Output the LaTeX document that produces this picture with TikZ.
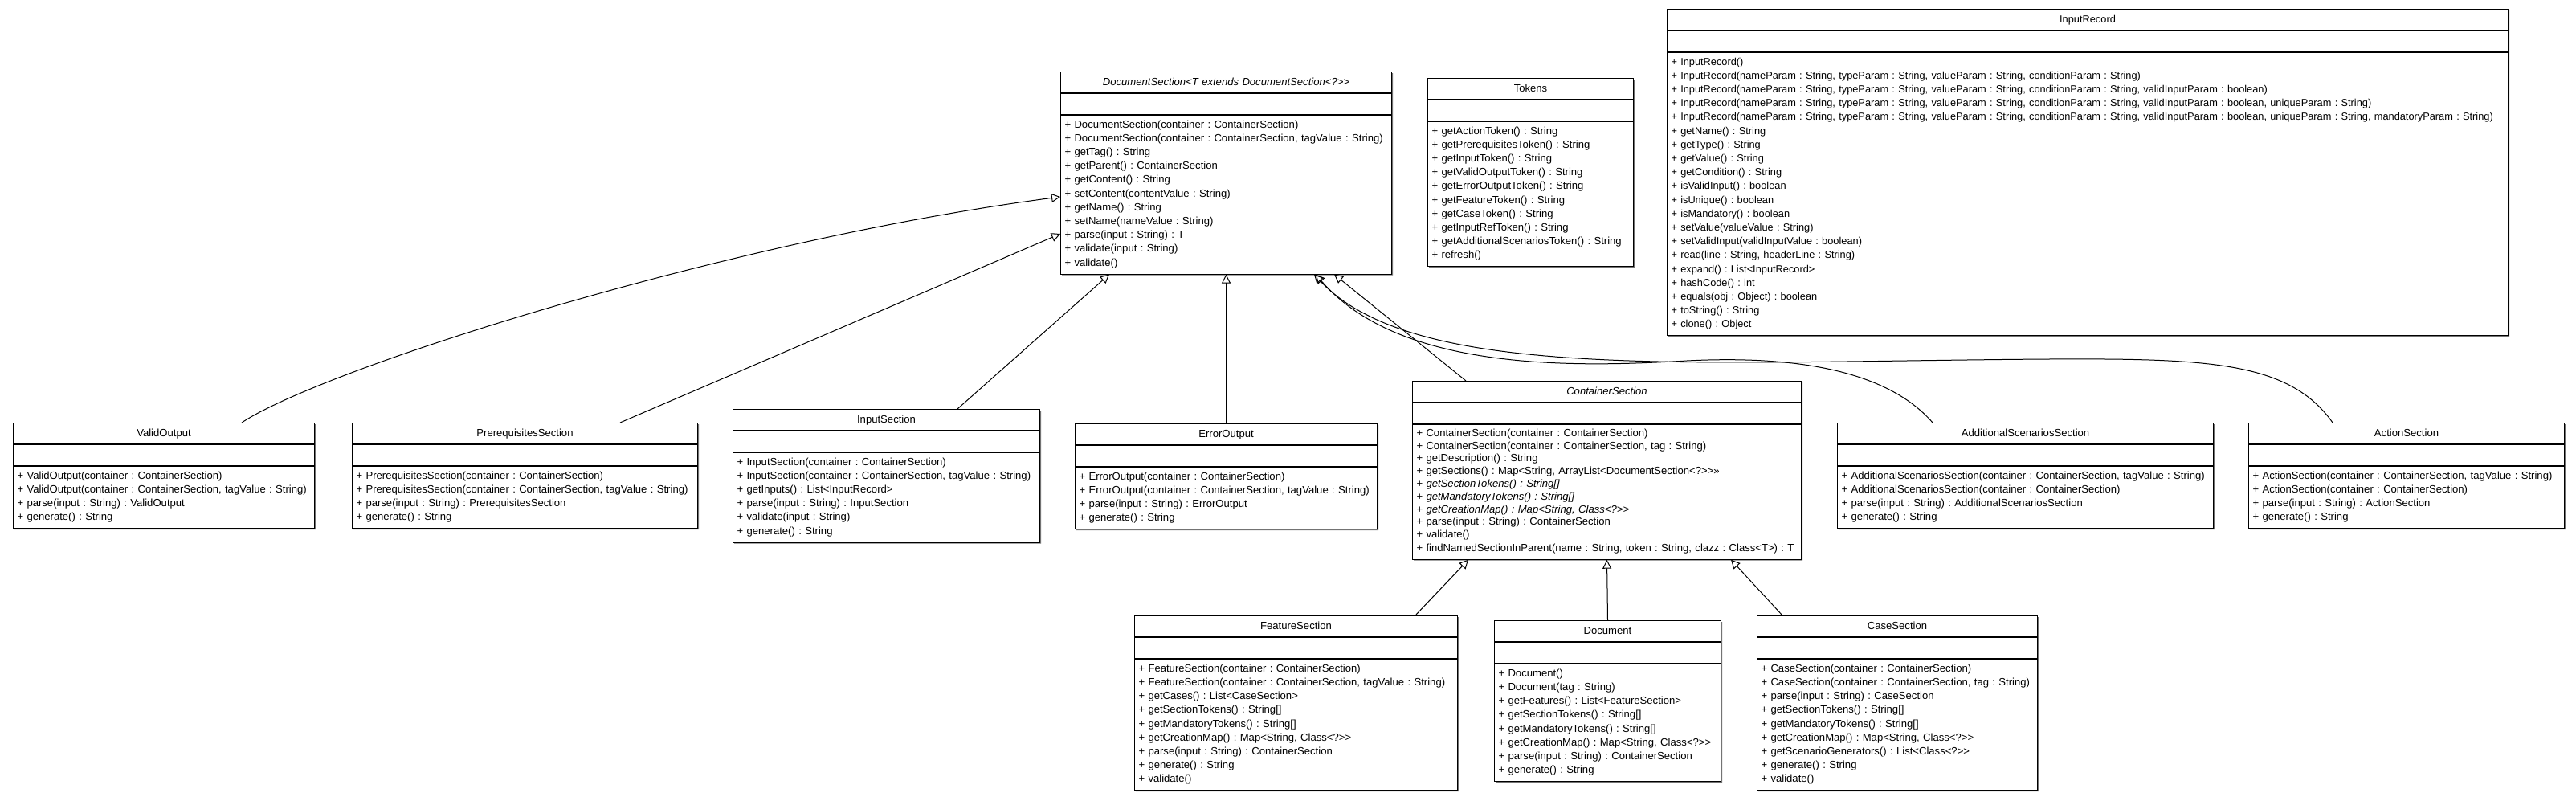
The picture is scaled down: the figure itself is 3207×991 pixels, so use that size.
\documentclass[tikz,border=0pt]{standalone}
\usepackage{fontspec}
\setmainfont{Liberation Sans}
\usetikzlibrary{shapes.multipart}
\usetikzlibrary{arrows.meta}
\usetikzlibrary{shadows}

\newcommand{\umlfont}{\fontsize{13.1pt}{17.2pt}\selectfont\frenchspacing}
\newcommand{\ops}[1]{\strut#1\strut}
\newcommand{\ctitle}[1]{\hbox to\hsize{\hss\strut#1\hss}}

\tikzset{
  umlclass/.style={draw, fill=white, line width=1pt, rectangle split, rectangle split parts=3,
    anchor=north west, align=left, inner xsep=5pt, inner ysep=4.15pt, font=\umlfont,
    drop shadow={shadow xshift=1.5pt, shadow yshift=-1.5pt, fill=black!55, opacity=1}},
  genarrow/.style={line width=1pt, -{Triangle[open, length=11pt, width=11pt]}}
}

\begin{document}
\begin{tikzpicture}[x=1pt,y=-1pt]
\useasboundingbox (0,0) rectangle (3207,991);

\node[umlclass, text width=402pt] (docsec) at (1320,89) {\ctitle{\textit{DocumentSection<T extends DocumentSection<?>{}>}}
  \nodepart{second}\strut
  \nodepart{third}\ops{+ DocumentSection(container : ContainerSection)\\
  + DocumentSection(container : ContainerSection, tagValue : String)\\
  + getTag() : String\\
  + getParent() : ContainerSection\\
  + getContent() : String\\
  + setContent(contentValue : String)\\
  + getName() : String\\
  + setName(nameValue : String)\\
  + parse(input : String) : T\\
  + validate(input : String)\\
  + validate()}};

\node[umlclass, text width=246pt] (tokens) at (1777,97) {\ctitle{Tokens}
  \nodepart{second}\strut
  \nodepart{third}\ops{+ getActionToken() : String\\
  + getPrerequisitesToken() : String\\
  + getInputToken() : String\\
  + getValidOutputToken() : String\\
  + getErrorOutputToken() : String\\
  + getFeatureToken() : String\\
  + getCaseToken() : String\\
  + getInputRefToken() : String\\
  + getAdditionalScenariosToken() : String\\
  + refresh()}};

\node[umlclass, text width=1037pt, font={\fontsize{12.8pt}{17.2pt}\selectfont\frenchspacing}] (inrec) at (2075,11) {\ctitle{InputRecord}
  \nodepart{second}\strut
  \nodepart{third}\ops{+ InputRecord()\\
  + InputRecord(nameParam : String, typeParam : String, valueParam : String, conditionParam : String)\\
  + InputRecord(nameParam : String, typeParam : String, valueParam : String, conditionParam : String, validInputParam : boolean)\\
  + InputRecord(nameParam : String, typeParam : String, valueParam : String, conditionParam : String, validInputParam : boolean, uniqueParam : String)\\
  \mbox{+ InputRecord(nameParam : String, typeParam : String, valueParam : String, conditionParam : String, validInputParam : boolean, uniqueParam : String, mandatoryParam : String)}\\
  + getName() : String\\
  + getType() : String\\
  + getValue() : String\\
  + getCondition() : String\\
  + isValidInput() : boolean\\
  + isUnique() : boolean\\
  + isMandatory() : boolean\\
  + setValue(valueValue : String)\\
  + setValidInput(validInputValue : boolean)\\
  + read(line : String, headerLine : String)\\
  + expand() : List<InputRecord>\\
  + hashCode() : int\\
  + equals(obj : Object) : boolean\\
  + toString() : String\\
  + clone() : Object}};

\node[umlclass, text width=365pt] (validout) at (16,526) {\ctitle{ValidOutput}
  \nodepart{second}\strut
  \nodepart{third}\ops{+ ValidOutput(container : ContainerSection)\\
  + ValidOutput(container : ContainerSection, tagValue : String)\\
  + parse(input : String) : ValidOutput\\
  + generate() : String}};

\node[umlclass, text width=420pt] (prereq) at (438,526) {\ctitle{PrerequisitesSection}
  \nodepart{second}\strut
  \nodepart{third}\ops{+ PrerequisitesSection(container : ContainerSection)\\
  + PrerequisitesSection(container : ContainerSection, tagValue : String)\\
  + parse(input : String) : PrerequisitesSection\\
  + generate() : String}};

\node[umlclass, text width=372pt] (inputsec) at (912,509) {\ctitle{InputSection}
  \nodepart{second}\strut
  \nodepart{third}\ops{+ InputSection(container : ContainerSection)\\
  + InputSection(container : ContainerSection, tagValue : String)\\
  + getInputs() : List<InputRecord>\\
  + parse(input : String) : InputSection\\
  + validate(input : String)\\
  + generate() : String}};

\node[umlclass, text width=366pt] (errout) at (1338,527) {\ctitle{ErrorOutput}
  \nodepart{second}\strut
  \nodepart{third}\ops{+ ErrorOutput(container : ContainerSection)\\
  + ErrorOutput(container : ContainerSection, tagValue : String)\\
  + parse(input : String) : ErrorOutput\\
  + generate() : String}};

\node[umlclass, text width=474pt] (contsec) at (1758,474) {\ctitle{\textit{ContainerSection}}
  \nodepart{second}\strut
  \nodepart{third}\fontsize{13.1pt}{15.8pt}\selectfont\ops{+ ContainerSection(container : ContainerSection)\\
  + ContainerSection(container : ContainerSection, tag : String)\\
  + getDescription() : String\\
  + getSections() : Map<String, ArrayList<DocumentSection<?>{}>{}>>\\
  + \textit{getSectionTokens() : String[]}\\
  + \textit{getMandatoryTokens() : String[]}\\
  + \textit{getCreationMap() : Map<String, Class<?>{}>}\\
  + parse(input : String) : ContainerSection\\
  + validate()\\
  + findNamedSectionInParent(name : String, token : String, clazz : Class<T>) : T}};

\node[umlclass, text width=458pt] (addscen) at (2287,526) {\ctitle{AdditionalScenariosSection}
  \nodepart{second}\strut
  \nodepart{third}\ops{+ AdditionalScenariosSection(container : ContainerSection, tagValue : String)\\
  + AdditionalScenariosSection(container : ContainerSection)\\
  + parse(input : String) : AdditionalScenariosSection\\
  + generate() : String}};

\node[umlclass, text width=383pt] (action) at (2799,526) {\ctitle{ActionSection}
  \nodepart{second}\strut
  \nodepart{third}\ops{+ ActionSection(container : ContainerSection, tagValue : String)\\
  + ActionSection(container : ContainerSection)\\
  + parse(input : String) : ActionSection\\
  + generate() : String}};

\node[umlclass, text width=392pt] (feature) at (1412,766) {\ctitle{FeatureSection}
  \nodepart{second}\strut
  \nodepart{third}\ops{+ FeatureSection(container : ContainerSection)\\
  + FeatureSection(container : ContainerSection, tagValue : String)\\
  + getCases() : List<CaseSection>\\
  + getSectionTokens() : String[]\\
  + getMandatoryTokens() : String[]\\
  + getCreationMap() : Map<String, Class<?>{}>\\
  + parse(input : String) : ContainerSection\\
  + generate() : String\\
  + validate()}};

\node[umlclass, text width=272pt] (document) at (1860,772) {\ctitle{Document}
  \nodepart{second}\strut
  \nodepart{third}\ops{+ Document()\\
  + Document(tag : String)\\
  + getFeatures() : List<FeatureSection>\\
  + getSectionTokens() : String[]\\
  + getMandatoryTokens() : String[]\\
  + getCreationMap() : Map<String, Class<?>{}>\\
  + parse(input : String) : ContainerSection\\
  + generate() : String}};

\node[umlclass, text width=339pt] (casesec) at (2187,766) {\ctitle{CaseSection}
  \nodepart{second}\strut
  \nodepart{third}\ops{+ CaseSection(container : ContainerSection)\\
  + CaseSection(container : ContainerSection, tag : String)\\
  + parse(input : String) : CaseSection\\
  + getSectionTokens() : String[]\\
  + getMandatoryTokens() : String[]\\
  + getCreationMap() : Map<String, Class<?>{}>\\
  + getScenarioGenerators() : List<Class<?>{}>\\
  + generate() : String\\
  + validate()}};

\foreach \n in {docsec,tokens,inrec,validout,prereq,inputsec,errout,contsec,addscen,action,feature,document,casesec}{
  \draw[line width=2pt] (\n.text split west) -- (\n.text split east);
  \draw[line width=2pt] (\n.two split west) -- (\n.two split east);
}

\draw[genarrow] ([xshift=285pt]validout.north west) .. controls (400,460) and (900,300) .. ([yshift=-156pt]docsec.north west);
\draw[genarrow] ([xshift=334pt]prereq.north west) -- ([yshift=-202pt]docsec.north west);
\draw[genarrow] ([xshift=280pt]inputsec.north west) -- ([xshift=61pt]docsec.south west);
\draw[genarrow] (errout.north) -- (docsec.south);
\draw[genarrow] ([xshift=67pt]contsec.north west) -- ([xshift=341pt]docsec.south west);
\draw[genarrow] ([xshift=119pt]addscen.north west) .. controls (2340,450) and (2200,444) .. (2100,449)
  .. controls (1950,458) and (1740,460) .. ([xshift=318pt]docsec.south west);
\draw[genarrow] ([xshift=105pt]action.north west) .. controls (2850,450) and (2750,446) .. (2550,447)
  .. controls (2100,450) and (1760,475) .. ([xshift=316pt]docsec.south west);

\draw[genarrow] ([xshift=350pt]feature.north west) -- ([xshift=70pt]contsec.south west);
\draw[genarrow] (document.north) -- (contsec.south);
\draw[genarrow] ([xshift=32pt]casesec.north west) -- ([xshift=397pt]contsec.south west);
\end{tikzpicture}
\end{document}
